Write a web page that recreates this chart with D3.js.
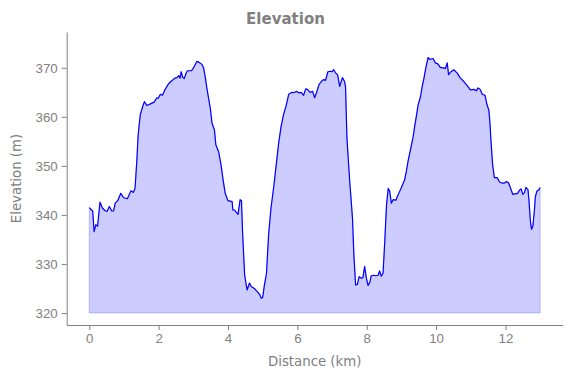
<!DOCTYPE html>
<html>
<head>
<meta charset="utf-8">
<script src="https://cdn.jsdelivr.net/npm/d3@7"></script>
<style>
  body { margin: 0; background: #fff; }
  svg { font-family: "DejaVu Sans", sans-serif; }
  .axis path, .axis line { stroke: #808080; }
  .axis text { fill: #808080; font-size: 13.3px; }
</style>
</head>
<body>
<div id="chart"></div>
<script>
// distance along the route (km) and elevation (m)
const distanceKm = [
  0.00, 0.07, 0.10, 0.14, 0.19, 0.24, 0.31, 0.38, 0.45, 0.51, 0.58, 0.65, 0.70, 0.75, 0.82, 0.91, 0.99,
  1.10, 1.20, 1.27, 1.32, 1.37, 1.41, 1.47, 1.54, 1.59, 1.66, 1.78, 1.87, 1.95, 1.99,
  2.05, 2.11, 2.18, 2.28, 2.37, 2.47, 2.53, 2.58, 2.62, 2.65, 2.70, 2.74, 2.79, 2.83, 2.95,
  3.03, 3.10, 3.17, 3.25, 3.30, 3.35, 3.39, 3.44, 3.49, 3.54, 3.61, 3.65, 3.73, 3.80, 3.86, 3.92,
  4.00, 4.12, 4.14, 4.19, 4.29, 4.35, 4.39, 4.42, 4.48, 4.55, 4.62, 4.67, 4.76, 4.84, 4.91, 4.96,
  5.00, 5.05, 5.11, 5.17, 5.24, 5.32, 5.39, 5.46, 5.53, 5.60, 5.68, 5.75, 5.85, 5.88, 5.99,
  6.04, 6.11, 6.18, 6.24, 6.29, 6.37, 6.44, 6.50, 6.55, 6.62, 6.69, 6.76, 6.81, 6.88, 6.95,
  7.00, 7.05, 7.11, 7.16, 7.22, 7.30, 7.36, 7.39, 7.43, 7.51, 7.59, 7.63, 7.68, 7.73, 7.78, 7.84, 7.89, 7.94, 7.99,
  8.04, 8.09, 8.13, 8.20, 8.26, 8.33, 8.37, 8.42, 8.47, 8.52, 8.57, 8.62, 8.66, 8.71, 8.76, 8.84, 8.88, 8.95,
  9.03, 9.09, 9.14, 9.19, 9.24, 9.29, 9.34, 9.38, 9.43, 9.48, 9.55, 9.60, 9.65, 9.70, 9.77, 9.82, 9.86, 9.91, 9.98,
  10.05, 10.12, 10.27, 10.32, 10.36, 10.43, 10.51, 10.61, 10.70, 10.80, 10.89, 10.99,
  11.09, 11.16, 11.21, 11.27, 11.33, 11.41, 11.47, 11.52, 11.55, 11.59, 11.63, 11.68, 11.76, 11.83, 11.90, 11.97,
  12.03, 12.09, 12.14, 12.21, 12.28, 12.35, 12.41, 12.45, 12.50, 12.55, 12.59, 12.65, 12.68, 12.72, 12.75, 12.79,
  12.84, 12.86, 12.91, 12.96, 13.00
];
const elevationM = [
  341.5, 341.0, 340.8, 336.6, 338.0, 337.7, 342.6, 341.4, 340.9, 340.7, 341.7, 340.8, 340.8, 342.4, 342.9, 344.4, 343.5,
  343.3, 344.9, 344.6, 345.4, 350.9, 356.3, 360.4, 362.1, 363.1, 362.3, 362.7, 363.0, 363.9, 363.8,
  364.6, 364.4, 365.5, 366.7, 367.3, 367.9, 368.0, 368.4, 367.9, 369.2, 368.0, 367.8, 368.9, 369.4, 369.4,
  370.3, 371.3, 371.1, 370.7, 369.9, 367.9, 365.9, 363.8, 361.8, 358.7, 357.3, 354.3, 352.9, 350.2, 347.1, 344.4,
  342.9, 342.7, 341.0, 341.0, 340.1, 343.1, 342.9, 336.6, 327.8, 324.7, 326.1, 325.4, 325.0, 324.4, 323.8, 323.0,
  323.2, 325.7, 328.1, 335.9, 341.4, 345.8, 350.2, 354.6, 358.0, 360.4, 362.4, 364.6, 365.0, 364.9, 365.2,
  364.9, 365.0, 364.4, 365.7, 365.6, 365.0, 365.2, 363.9, 364.9, 366.5, 367.2, 367.6, 367.4, 369.2, 369.3,
  369.2, 369.6, 368.9, 368.6, 366.2, 368.0, 367.2, 366.1, 355.6, 346.8, 339.3, 331.8, 325.7, 325.8, 327.4, 327.1, 327.2, 329.5, 327.1,
  325.6, 326.3, 327.6, 327.7, 327.6, 327.7, 328.6, 327.5, 328.1, 334.6, 342.0, 345.4, 344.9, 342.4, 343.1, 343.0, 343.7, 344.8,
  346.1, 347.1, 348.8, 350.9, 352.6, 354.3, 356.0, 358.0, 360.1, 362.4, 364.1, 366.2, 367.9, 369.9, 372.1, 371.7, 371.8, 371.9, 371.0,
  370.8, 370.1, 369.9, 371.0, 368.6, 369.2, 369.6, 368.9, 367.9, 367.2, 366.4, 365.5,
  365.6, 365.3, 365.9, 365.6, 364.6, 364.4, 362.4, 361.4, 359.0, 354.3, 350.2, 347.6, 347.6, 346.7, 346.5, 346.5,
  346.8, 346.5, 345.6, 344.2, 344.3, 344.4, 345.1, 345.3, 344.2, 344.6, 345.6, 345.1, 342.7, 338.6, 337.1, 337.7,
  341.4, 343.7, 344.9, 345.1, 345.6
];
const baseElevation = 320;
const xTicks = [0, 2, 4, 6, 8, 10, 12];
const yTicks = [320, 330, 340, 350, 360, 370];

let width = 571, height = 378;
let margin = { top: 32, left: 66.7, right: 8.3, bottom: 53 };
let chartWidth = width - margin.left - margin.right;
let chartHeight = height - margin.top - margin.bottom;

let points = distanceKm.map((d, i) => ({ km: d, elev: elevationM[i] }));

let xScale = d3.scaleLinear()
  .domain([-0.65, 13.65])
  .range([0, chartWidth]);

let yScale = d3.scaleLinear()
  .domain([317.55, 377.3])
  .range([chartHeight, 0]);

let svg = d3.select("#chart")
  .append("svg")
  .attr("width", width)
  .attr("height", height);

let chart = svg.append("g")
  .attr("transform", "translate(" + margin.left + "," + margin.top + ")");

// shaded area under the profile
let area = d3.area()
  .x(d => xScale(d.km))
  .y0(yScale(baseElevation))
  .y1(d => yScale(d.elev));

chart.append("path")
  .datum(points)
  .attr("d", area)
  .attr("fill", "blue")
  .attr("fill-opacity", 0.2)
  .attr("stroke", "blue")
  .attr("stroke-opacity", 0.2)
  .attr("stroke-width", 1);

let line = d3.line()
  .x(d => xScale(d.km))
  .y(d => yScale(d.elev));

chart.append("path")
  .datum(points)
  .attr("d", line)
  .attr("fill", "none")
  .attr("stroke", "blue")
  .attr("stroke-width", 1.2)
  .attr("stroke-linejoin", "round");

// axes
let xAxis = d3.axisBottom(xScale)
  .tickValues(xTicks)
  .tickSize(5)
  .tickPadding(4)
  .tickSizeOuter(0);

chart.append("g")
  .attr("class", "axis x-axis")
  .attr("transform", "translate(0," + chartHeight + ")")
  .call(xAxis);

let yAxis = d3.axisLeft(yScale)
  .tickValues(yTicks)
  .tickSize(5)
  .tickPadding(4)
  .tickSizeOuter(0);

chart.append("g")
  .attr("class", "axis y-axis")
  .call(yAxis);

// labels and title
svg.append("text")
  .attr("x", margin.left + chartWidth / 2)
  .attr("y", 366)
  .attr("text-anchor", "middle")
  .attr("fill", "#808080")
  .attr("font-size", "13.3px")
  .text("Distance (km)");

svg.append("text")
  .attr("transform", "translate(21," + (margin.top + chartHeight / 2) + ") rotate(-90)")
  .attr("text-anchor", "middle")
  .attr("fill", "#808080")
  .attr("font-size", "13.3px")
  .text("Elevation (m)");

svg.append("text")
  .attr("x", width / 2)
  .attr("y", 24)
  .attr("text-anchor", "middle")
  .attr("fill", "#808080")
  .attr("font-weight", "bold")
  .attr("font-size", "15px")
  .text("Elevation");
</script>
</body>
</html>
